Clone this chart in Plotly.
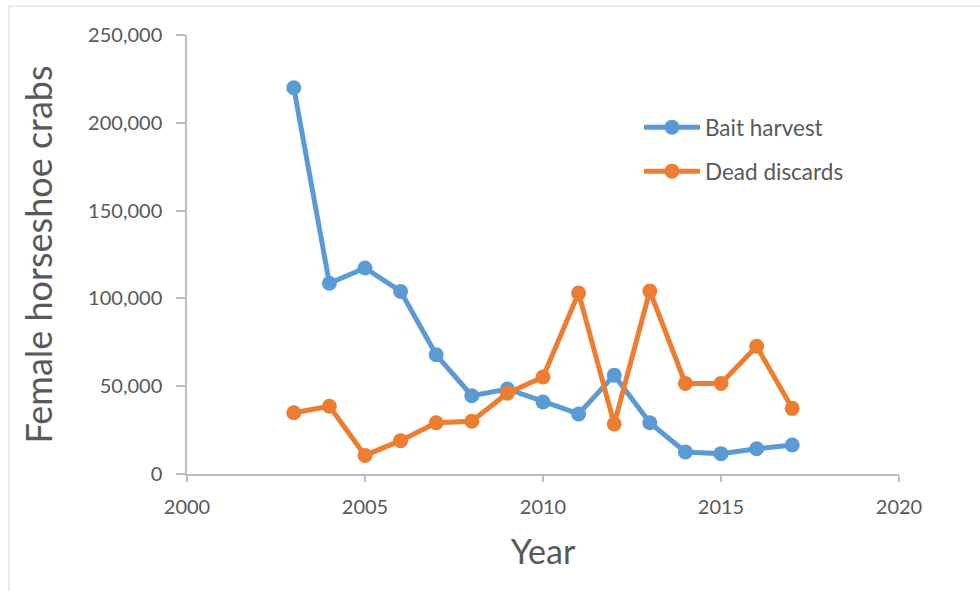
import plotly.graph_objects as go

years = [2003, 2004, 2005, 2006, 2007, 2008, 2009, 2010, 2011, 2012, 2013, 2014, 2015, 2016, 2017]
bait_harvest = [220000, 108600, 117300, 104000, 67900, 44600, 48400, 41000, 34200, 56300, 29200, 12500, 11600, 14400, 16500]
dead_discards = [34900, 38600, 10600, 19000, 29200, 30000, 46000, 55200, 103100, 28500, 104200, 51600, 51600, 72700, 37400]

x_ticks = [2000, 2005, 2010, 2015, 2020]
y_ticks = [0, 50000, 100000, 150000, 200000, 250000]

BLUE = "#5B9BD5"
ORANGE = "#ED7D31"
AXIS = "#BFBFBF"
TEXT = "#595959"
FONT = "Lato"

fig = go.Figure()
fig.add_trace(go.Scatter(
    x=years, y=bait_harvest, name="Bait harvest", mode="lines+markers",
    line=dict(color=BLUE, width=5), marker=dict(color=BLUE, size=15),
    legend="legend",
))
fig.add_trace(go.Scatter(
    x=years, y=dead_discards, name="Dead discards", mode="lines+markers",
    line=dict(color=ORANGE, width=5), marker=dict(color=ORANGE, size=15),
    legend="legend2",
))

L, R, T, B = 187, 81, 35, 117
W, H = 980, 591
pw, ph = W - L - R, H - T - B

# outer chart frame (light grey border)
fig.add_shape(
    type="rect", xref="paper", yref="paper",
    x0=(9 - L) / pw, x1=(W + 5 - L) / pw,
    y0=-(H + 5 - T - ph) / ph, y1=(H - 6 - B) / ph,
    line=dict(color="#D9D9D9", width=1.2), fillcolor="rgba(0,0,0,0)", layer="below",
)

legend_style = dict(
    xanchor="left", yanchor="top",
    font=dict(size=22.5, color=TEXT, family=FONT),
    bgcolor="rgba(0,0,0,0)", itemwidth=56,
)

fig.update_layout(
    width=W, height=H,
    margin=dict(l=L, r=R, t=T, b=B),
    paper_bgcolor="white", plot_bgcolor="white",
    font=dict(family=FONT, color=TEXT),
    xaxis=dict(
        range=[2000, 2020], tickvals=x_ticks, ticktext=[str(v) for v in x_ticks],
        showgrid=False, zeroline=False, showline=True, linecolor=AXIS, linewidth=1.5,
        ticks="outside", ticklen=6, tickcolor=AXIS, tickwidth=1.5,
        ticklabelstandoff=8,
        tickfont=dict(size=20, color=TEXT, family=FONT),
        title=dict(text="Year", font=dict(size=34, color=TEXT, family=FONT), standoff=23),
    ),
    yaxis=dict(
        range=[0, 250000], tickvals=y_ticks, ticktext=[f"{v:,}" for v in y_ticks],
        showgrid=False, zeroline=False, showline=True, linecolor=AXIS, linewidth=1.5,
        ticks="outside", ticklen=9, tickcolor=AXIS, tickwidth=1.5,
        ticklabelstandoff=10,
        tickfont=dict(size=20, color=TEXT, family=FONT),
        title=dict(text="Female horseshoe crabs", font=dict(size=36, color=TEXT, family=FONT), standoff=25),
    ),
    legend=dict(x=(639 - L) / pw, y=1 - (106 - T) / ph, **legend_style),
    legend2=dict(x=(639 - L) / pw, y=1 - (150 - T) / ph, **legend_style),
    showlegend=True,
)

fig.write_html("out.html")
